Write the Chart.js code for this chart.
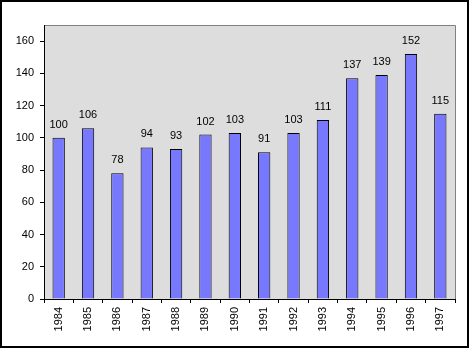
<!DOCTYPE html>
<html><head><meta charset="utf-8">
<script src="https://cdn.jsdelivr.net/npm/chart.js@4/dist/chart.umd.min.js"></script>
<style>html,body{margin:0;padding:0;background:#fff}#c{display:block}</style>
</head><body>
<canvas id="c" width="470" height="349"></canvas>
<script>
const years = ['1984','1985','1986','1987','1988','1989','1990','1991','1992','1993','1994','1995','1996','1997'];
const values = [100,106,78,94,93,102,103,91,103,111,137,139,152,115];
const yTicks = [0,20,40,60,80,100,120,140,160];

const frame = {
  id:'frame',
  beforeDraw(chart){
    const {ctx, chartArea:a} = chart;
    ctx.save();
    ctx.fillStyle = '#fff';
    ctx.fillRect(0,0,chart.width,chart.height);
    ctx.fillStyle = '#DDDDDD';
    ctx.fillRect(a.left,a.top,a.right-a.left,a.bottom-a.top);
    ctx.strokeStyle = '#808080';
    ctx.lineWidth = 1;
    ctx.beginPath();
    ctx.moveTo(a.left, a.top+0.5); ctx.lineTo(a.right+0.5, a.top+0.5); ctx.lineTo(a.right+0.5, a.bottom);
    ctx.stroke();
    ctx.restore();
  },
  afterDraw(chart){
    const ctx = chart.ctx;
    ctx.save();
    ctx.strokeStyle = '#000';
    ctx.lineWidth = 2;
    ctx.strokeRect(1,1,chart.width-3,chart.height-3);
    ctx.restore();
  }
};
const labels = {
  id:'labels',
  afterDatasetsDraw(chart){
    const ctx = chart.ctx;
    const meta = chart.getDatasetMeta(0);
    ctx.save();
    ctx.fillStyle = '#000';
    ctx.font = '11px "Liberation Sans", Arial, sans-serif';
    ctx.textAlign = 'center';
    ctx.textBaseline = 'alphabetic';
    meta.data.forEach((el,i)=>{
      ctx.fillText(String(values[i]), el.x, el.y - 10);
    });
    ctx.restore();
  }
};

new Chart(document.getElementById('c'), {
  type:'bar',
  data:{labels:years, datasets:[{data:values, backgroundColor:'#7878FF', borderColor:'#000', borderWidth:1, borderSkipped:'bottom', barPercentage:0.42, categoryPercentage:1}]},
  options:{
    responsive:false, animation:false,
    layout:{padding:{left:0,top:25,right:15,bottom:0}},
    plugins:{legend:{display:false}, tooltip:{enabled:false}},
    font:{family:'"Liberation Sans", Arial, sans-serif', size:11},
    scales:{
      x:{
        grid:{offset:true, drawOnChartArea:false, tickLength:4, tickColor:'#000', lineWidth:1},
        border:{color:'#000', width:1},
        ticks:{color:'#000', minRotation:90, maxRotation:90, padding:4, font:{family:'"Liberation Sans", Arial, sans-serif', size:11}},
        afterFit(s){ s.height = 50; }
      },
      y:{
        min:0, max:170,
        afterBuildTicks(s){ s.ticks = yTicks.map(v=>({value:v})); },
        grid:{drawOnChartArea:false, tickLength:4, tickColor:'#000'},
        border:{color:'#000', width:1},
        ticks:{color:'#000', padding:6, font:{family:'"Liberation Sans", Arial, sans-serif', size:11}},
        afterFit(s){ s.width = 44; }
      }
    }
  },
  plugins:[frame, labels]
});
</script>
</body></html>
